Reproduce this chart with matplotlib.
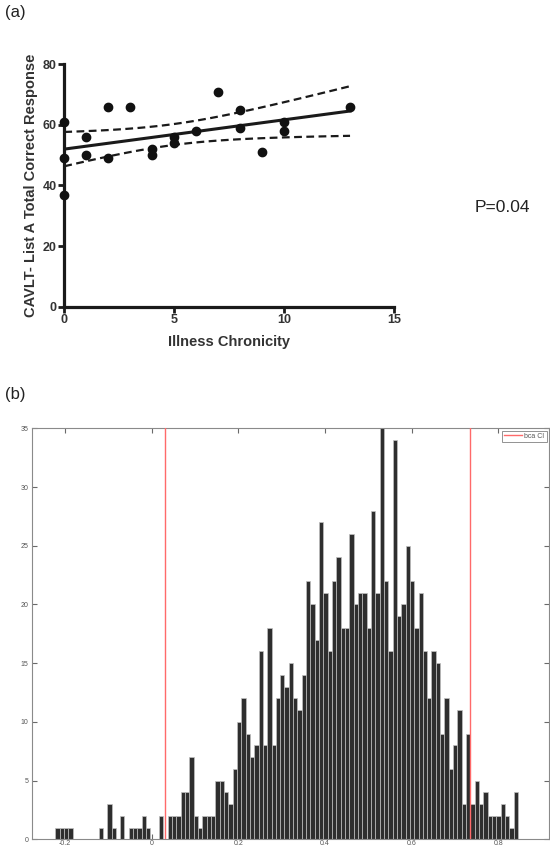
import numpy as np
import matplotlib
matplotlib.use('Agg')
import matplotlib.pyplot as plt

plt.rcParams['font.family'] = ['Liberation Sans', 'DejaVu Sans']

# (a) scatter: illness chronicity vs CAVLT list A total correct
chronicity = [0, 0, 0, 1, 1, 2, 2, 3, 4, 4, 5, 5, 6, 7, 8, 8, 9, 10, 10, 13]
cavlt_score = [61, 49, 37, 56, 50, 66, 49, 66, 52, 50, 56, 54, 58, 71, 65, 59, 51, 61, 58, 66]
p_text = 'P=0.04'

# (b) bootstrap histogram counts, bins of ~0.01 starting at -0.2225
bin_start = -0.2225
bin_width = 0.00998
counts = [1, 1, 1, 1, 0, 0, 0, 0, 0, 0, 1, 0, 3, 1, 0, 2, 0, 1, 1, 1,
          2, 1, 0, 0, 2, 0, 2, 2, 2, 4, 4, 7, 2, 1, 2, 2, 2, 5, 5, 4,
          3, 6, 10, 12, 9, 7, 8, 16, 8, 18, 8, 12, 14, 13, 15, 12, 11, 14, 22, 20,
          17, 27, 21, 16, 22, 24, 18, 18, 26, 20, 21, 21, 18, 28, 21, 35, 22, 16, 34, 19,
          20, 25, 22, 18, 21, 16, 12, 16, 15, 9, 12, 6, 8, 11, 3, 9, 3, 5, 3, 4,
          2, 2, 2, 3, 2, 1, 4]
ci_bounds = [0.0315, 0.7346]

W, H = 550, 848
fig = plt.figure(figsize=(W / 100, H / 100), dpi=100)


def px_axes(left, top, right, bottom):
    return fig.add_axes([left / W, 1 - bottom / H, (right - left) / W, (bottom - top) / H])


# ---------- panel (a) ----------
ax1 = px_axes(64.3, 64.3, 394, 306.7)
x = np.array(chronicity, dtype=float)
y = np.array(cavlt_score, dtype=float)
slope, intercept = np.polyfit(x, y, 1)
n = len(x)
resid = y - (slope * x + intercept)
s = np.sqrt(np.sum(resid ** 2) / (n - 2))
sxx = np.sum((x - x.mean()) ** 2)
t_crit = 2.1009  # t(0.975, 18)
xx = np.linspace(x.min(), x.max(), 100)
yy = slope * xx + intercept
half = t_crit * s * np.sqrt(1 / n + (xx - x.mean()) ** 2 / sxx)

ax1.plot(xx, yy, color='#1a1a1a', lw=2.2, zorder=3)
ax1.plot(xx, yy + half, color='#1a1a1a', lw=1.6, ls=(0, (3.5, 2)), zorder=3)
ax1.plot(xx, yy - half, color='#1a1a1a', lw=1.6, ls=(0, (3.5, 2)), zorder=3)
ax1.scatter(x, y, s=36, color='#111111', zorder=4, clip_on=False)

ax1.set_xlim(0, 15)
ax1.set_ylim(0, 80)
ax1.set_xticks([0, 5, 10, 15])
ax1.set_yticks([0, 20, 40, 60, 80])
for side in ['top', 'right']:
    ax1.spines[side].set_visible(False)
for side in ['left', 'bottom']:
    ax1.spines[side].set_linewidth(2.3)
    ax1.spines[side].set_color('#1a1a1a')
ax1.tick_params(direction='out', length=4, width=2.0, color='#1a1a1a', labelsize=9, pad=1.5)
for lab in ax1.get_xticklabels() + ax1.get_yticklabels():
    lab.set_fontweight('bold')
    lab.set_color('#333333')
ax1.set_xlabel('Illness Chronicity', fontsize=10.5, fontweight='bold', color='#333333', labelpad=6)
ax1.set_ylabel('CAVLT- List A Total Correct Response', fontsize=10.5, fontweight='bold',
               color='#333333', labelpad=3)

fig.text(5 / W, 1 - 12 / H, '(a)', fontsize=12, va='center', ha='left', color='#222222')
fig.text(475 / W, 1 - 208 / H, p_text, fontsize=12.5, va='center', ha='left', color='#222222')
fig.text(5 / W, 1 - 395 / H, '(b)', fontsize=12, va='center', ha='left', color='#222222')

# ---------- panel (b) ----------
ax2 = px_axes(31.7, 428.3, 549, 839.3)
edges = bin_start + bin_width * np.arange(len(counts))
ax2.bar(edges, counts, width=bin_width, align='edge', color='#2e2e2e',
        edgecolor='#c0c0c0', linewidth=0.5, zorder=2)
for i, b in enumerate(ci_bounds):
    ax2.axvline(b, color='#ff6a6a', lw=1.0, zorder=3, label='bca CI' if i == 0 else None)

ax2.set_xlim(-0.277, 0.917)
ax2.set_ylim(0, 35)
ax2.set_xticks([-0.2, 0, 0.2, 0.4, 0.6, 0.8])
ax2.set_xticklabels(['-0.2', '0', '0.2', '0.4', '0.6', '0.8'])
ax2.set_yticks(range(0, 36, 5))
for side in ax2.spines.values():
    side.set_color('#8a8a8a')
    side.set_linewidth(0.8)
ax2.tick_params(direction='in', length=3.5, width=0.8, color='#6a6a6a', labelsize=5,
                labelcolor='#555555', top=True, right=True, pad=2.5)
ax2.tick_params(axis='x', pad=0.8)

leg = ax2.legend(loc='upper right', fontsize=5, frameon=True, fancybox=False,
                 handlelength=2.6, handletextpad=0.3, borderpad=0.3,
                 borderaxespad=0.35, labelcolor='#555555')
leg.get_frame().set_edgecolor('#777777')
leg.get_frame().set_linewidth(0.7)

fig.savefig('out.png', dpi=100)
